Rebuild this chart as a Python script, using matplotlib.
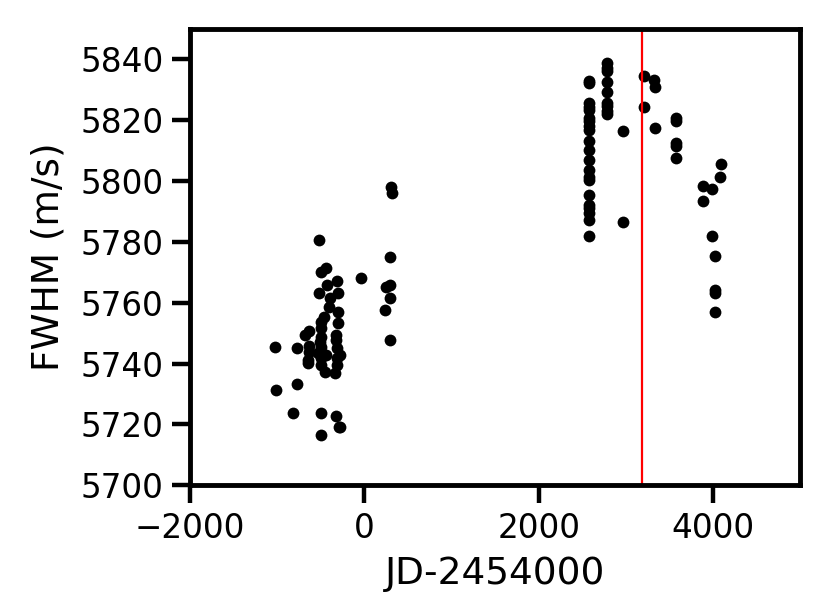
import numpy as np
import matplotlib.pyplot as plt

# JD-2454000 and FWHM (m/s)
jd = [-519, 291, -435, -500, -34, -313, -428, 291, 253, -519, -302, -390, 291,
      -405, -302, 242, -466, -500, -302, -492, -634, -683, -328, -492, 291, -511,
      -328, -1027, -778, -634, -492, -313, -634, -531, -435, -283, -645, -492,
      -313, -645, -492, -313, -454, -340, -778, -1015, -817, -500, -328, -290,
      -274, -492, 310, 320,
      2580, 2580, 2580, 2580, 2580, 2580, 2580, 2580, 2580, 2580, 2580, 2580,
      2580, 2580, 2580, 2580, 2580, 2580, 2580, 2580, 2580,
      2783, 2783, 2783, 2783, 2783, 2783, 2783, 2783, 2783,
      2969, 2969, 3210, 3325, 3332, 3210, 3332,
      3580, 3580, 3580, 3580, 3580,
      4089, 4081, 3886, 3992, 3889, 3985, 4023, 4023, 4023, 4023]
fwhm = [5780.7, 5774.9, 5771.4, 5770.0, 5768.3, 5767.2, 5765.9, 5765.9, 5765.3,
        5763.3, 5763.3, 5761.5, 5761.5, 5758.5, 5757.1, 5757.6, 5755.4, 5753.8,
        5753.5, 5751.6, 5750.7, 5749.4, 5749.4, 5748.8, 5747.8, 5747.2, 5747.8,
        5745.6, 5745.2, 5745.8, 5745.6, 5745.0, 5743.9, 5743.4, 5742.8, 5742.8,
        5741.2, 5741.7, 5741.7, 5740.1, 5739.5, 5739.5, 5737.3, 5736.8, 5733.2,
        5731.3, 5723.8, 5723.8, 5722.7, 5719.2, 5719.0, 5716.5, 5798.2, 5796.2,
        5832.8, 5832.3, 5825.7, 5824.4, 5823.5, 5820.8, 5819.7, 5818.0, 5816.9,
        5813.1, 5810.3, 5807.0, 5803.8, 5801.5, 5800.5, 5795.5, 5792.2, 5791.1,
        5789.5, 5787.3, 5782.0,
        5838.9, 5837.3, 5836.1, 5832.6, 5829.3, 5825.7, 5824.6, 5823.0, 5821.9,
        5816.4, 5786.7, 5834.7, 5833.4, 5830.9, 5824.4, 5817.3,
        5820.8, 5819.7, 5812.5, 5811.4, 5807.6,
        5805.7, 5801.3, 5798.3, 5797.5, 5793.5, 5782.0, 5775.4, 5764.2, 5763.1,
        5756.9]
vline_x = 3180

fig = plt.figure(figsize=(8.3, 6.05), dpi=100)
ax = fig.add_axes([0.229, 0.198, 0.735, 0.754])

ax.plot(jd, fwhm, 'o', color='black', ms=8.5, mec='none')
ax.axvline(vline_x, color='red', lw=1.6)

ax.set_xlim(-2000, 5000)
ax.set_ylim(5700, 5850)
ax.set_yticks(np.arange(5700, 5841, 20))
ax.set_xticks([-2000, 0, 2000, 4000])
ax.set_xlabel('JD-2454000', fontsize=27, labelpad=8)
ax.set_ylabel('FWHM (m/s)', fontsize=27, labelpad=10)
ax.tick_params(labelsize=23.5, length=13, width=3.2, pad=6)
for s in ax.spines.values():
    s.set_linewidth(3.5)

fig.savefig('out.png', dpi=100)
